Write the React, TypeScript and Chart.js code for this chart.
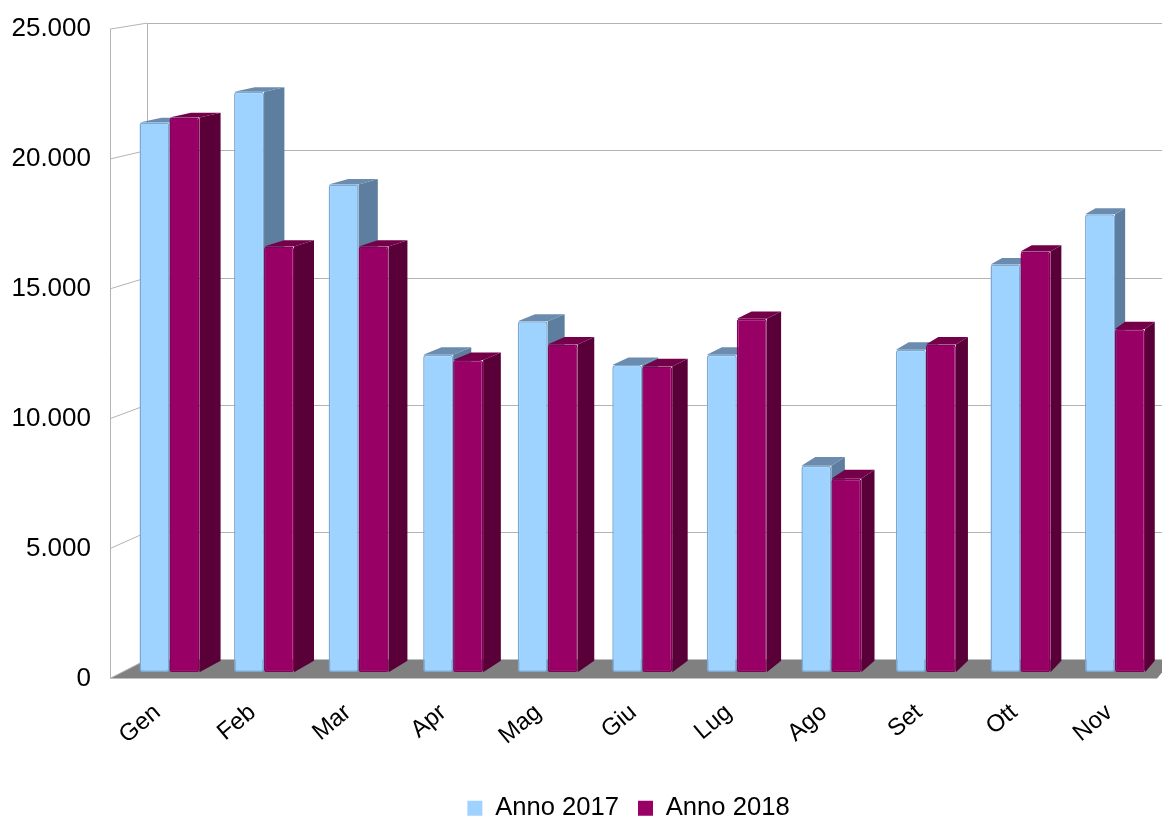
import React, { useEffect, useRef } from "react";
import { Chart, registerables } from "chart.js";

Chart.register(...registerables);

const months = ["Gen", "Feb", "Mar", "Apr", "Mag", "Giu", "Lug", "Ago", "Set", "Ott", "Nov"];
const anno2017 = [21300, 22500, 18900, 12300, 13600, 11900, 12300, 8000, 12500, 15800, 17750];
const anno2018 = [21500, 16500, 16500, 12100, 12700, 11850, 13700, 7500, 12700, 16300, 13300];
const seriesNames = ["Anno 2017", "Anno 2018"];
const yTicks = [0, 5000, 10000, 15000, 20000, 25000];

const FONT = "'Liberation Sans', Arial, sans-serif";

// perspective model (vanishing point of the depth axis)
const VP = { x: 1960, y: -272 };
const S_FRONT = 0.0066; // bar front plane depth
const S_DEPTH = 0.012; // bar depth
const K_WALL = 0.02; // full depth of walls / floor
const LEGEND_SHIFT = 50;

const faceColors = [
  { side: "#5d7e9e", top: "#6b8cae" },
  { side: "#5a0038", top: "#740049" },
];

function proj(x: number, y: number, s: number) {
  return { x: x + s * (VP.x - x), y: y + s * (VP.y - y) };
}

function poly(ctx: CanvasRenderingContext2D, pts: { x: number; y: number }[], fill: string) {
  ctx.beginPath();
  ctx.moveTo(pts[0].x, pts[0].y);
  for (let i = 1; i < pts.length; i++) ctx.lineTo(pts[i].x, pts[i].y);
  ctx.closePath();
  ctx.fillStyle = fill;
  ctx.fill();
}

const fmt = (v: number) => String(v).replace(/\B(?=(\d{3})+(?!\d))/g, ".");

const fake3d = {
  id: "fake3d",
  afterLayout(chart: any) {
    const lg = chart.legend;
    if (lg) {
      lg.left += LEGEND_SHIFT;
      lg.right += LEGEND_SHIFT;
    }
  },
  beforeDatasetsDraw(chart: any) {
    const ctx: CanvasRenderingContext2D = chart.ctx;
    const a = chart.chartArea;
    const yScale = chart.scales.y;
    const L = a.left, R = a.right, T = a.top, B = a.bottom;

    ctx.save();
    // floor
    const fl = [{ x: L, y: B }, { x: R, y: B }, proj(R, B, K_WALL), proj(L, B, K_WALL)];
    poly(ctx, fl, "#808080");

    // walls / grid
    ctx.strokeStyle = "#b3b3b3";
    ctx.lineWidth = 1;
    ctx.beginPath();
    ctx.moveTo(L + 0.5, T);
    ctx.lineTo(L + 0.5, B);
    const bt = proj(L, T, K_WALL);
    const bb = proj(L, B, K_WALL);
    ctx.moveTo(Math.round(bt.x) + 0.5, bt.y);
    ctx.lineTo(Math.round(bb.x) + 0.5, bb.y);
    for (const v of yTicks) {
      const yf = yScale.getPixelForValue(v);
      const b = proj(L, yf, K_WALL);
      const br = proj(R + 40, yf, K_WALL);
      ctx.moveTo(L, yf);
      ctx.lineTo(b.x, b.y);
      if (v !== 0) {
        ctx.moveTo(b.x, Math.round(b.y) + 0.5);
        ctx.lineTo(br.x, Math.round(b.y) + 0.5);
      }
    }
    ctx.stroke();

    // bar extrusions (side + top), in painter order
    const metas = [chart.getDatasetMeta(0), chart.getDatasetMeta(1)];
    for (let i = 0; i < months.length; i++) {
      metas.forEach((meta: any, d: number) => {
        const bar = meta.data[i];
        if (!bar) return;
        const p = bar.getProps(["x", "y", "base", "width"], true);
        const l = p.x - p.width / 2, r = p.x + p.width / 2;
        const ftl = proj(l, p.y, S_FRONT);
        const ftr = proj(r, p.y, S_FRONT);
        const fbr = proj(r, p.base, S_FRONT);
        const back = (q: { x: number; y: number }) => proj(q.x, q.y, S_DEPTH);
        poly(ctx, [ftr, fbr, back(fbr), back(ftr)], faceColors[d].side);
        poly(ctx, [ftl, ftr, back(ftr), back(ftl)], faceColors[d].top);
      });
    }
    ctx.restore();

    // bar fronts drawn in the bar front plane
    ctx.save();
    ctx.translate(S_FRONT * VP.x, S_FRONT * VP.y);
    ctx.scale(1 - S_FRONT, 1 - S_FRONT);
  },
  afterDatasetsDraw(chart: any) {
    chart.ctx.restore();
  },
};

export default function App() {
  const ref = useRef<HTMLCanvasElement>(null);
  useEffect(() => {
    if (!ref.current) return;
    Chart.defaults.font.family = FONT;
    Chart.defaults.color = "#000";
    const chart = new Chart(ref.current, {
      type: "bar",
      data: {
        labels: months,
        datasets: [
          {
            label: seriesNames[0],
            data: anno2017,
            backgroundColor: "#9fd3ff",
            borderColor: "#7aa9d6",
            borderWidth: 1.5,
            borderRadius: 3,
            borderSkipped: false,
            categoryPercentage: 0.634,
            barPercentage: 1.0,
          },
          {
            label: seriesNames[1],
            data: anno2018,
            backgroundColor: "#990066",
            borderColor: "#850058",
            borderWidth: 1.5,
            borderRadius: 3,
            borderSkipped: false,
            categoryPercentage: 0.634,
            barPercentage: 1.0,
          },
        ],
      },
      options: {
        responsive: false,
        animation: false,
        devicePixelRatio: 1,
        layout: { padding: { left: 0, right: 5, top: 16, bottom: -14 } },
        plugins: {
          tooltip: { enabled: false },
          legend: {
            position: "bottom",
            labels: {
              boxWidth: 15,
              boxHeight: 15,
              padding: 19,
              font: { size: 25.6, family: FONT },
              color: "#000",
              generateLabels: (c: any) =>
                (Chart.defaults.plugins.legend.labels as any)
                  .generateLabels(c)
                  .map((l: any) => ({ ...l, lineWidth: 0, strokeStyle: "rgba(0,0,0,0)" })),
            },
          },
        },
        scales: {
          x: {
            grid: { display: false, drawTicks: false },
            border: { display: false },
            ticks: {
              font: { size: 24, family: FONT },
              color: "#000",
              minRotation: 40,
              maxRotation: 40,
              padding: 20,
              autoSkip: false,
            },
            afterFit: (s: any) => {
              s.height = 98;
            },
          },
          y: {
            min: 0,
            max: 25000,
            grid: { display: false, drawTicks: false },
            border: { display: false },
            ticks: {
              stepSize: 5000,
              font: { size: 26, family: FONT, lineHeight: 0.78 },
              color: "#000",
              padding: 19,
              callback: (v: any) => fmt(Number(v)),
            },
            afterFit: (s: any) => {
              s.width = 110;
            },
          },
        },
      },
      plugins: [fake3d],
    });
    return () => chart.destroy();
  }, []);
  return (
    <div style={{ position: "fixed", left: 0, top: 0, width: 1162, height: 817, background: "#fff" }}>
      <canvas ref={ref} width={1162} height={817} style={{ display: "block" }} />
    </div>
  );
}
